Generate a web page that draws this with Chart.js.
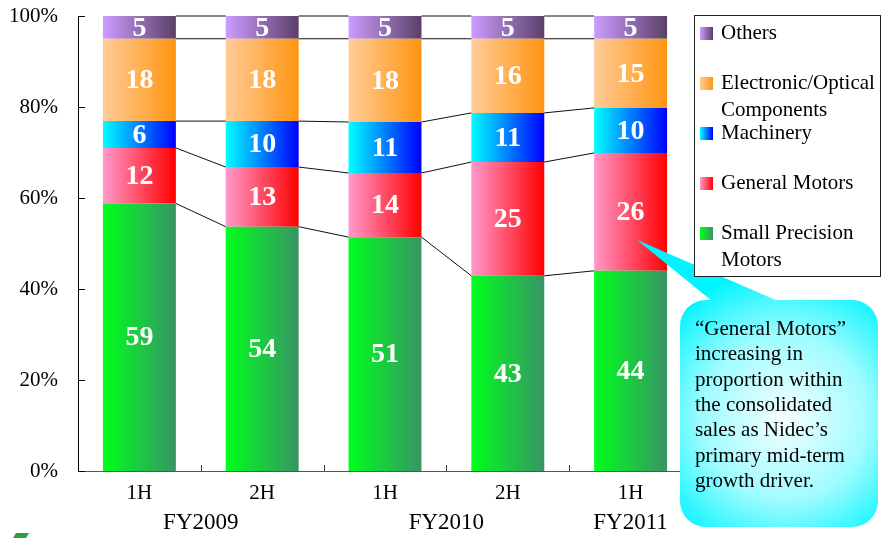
<!DOCTYPE html>
<html>
<head>
<meta charset="utf-8">
<title>Sales by segment</title>
<script src="https://cdn.jsdelivr.net/npm/chart.js@4.4.0/dist/chart.umd.min.js"></script>
<style>
    html, body { margin: 0; padding: 0; background: #fff; }
    #wrap { width: 882px; height: 538px; }
</style>
</head>
<body>
<div id="wrap"><canvas id="segment-chart" width="882" height="538"></canvas></div>
<script>
// Share of consolidated sales (%)
const halves = ['1H', '2H', '1H', '2H', '1H'];
const fiscalYears = ['FY2009', 'FY2010', 'FY2011'];
const fiscalSpans = [[0, 1], [2, 3], [4, 4]];

const smallPrecision = [58.8, 53.7, 51.4, 42.9, 44.0];
const generalMotors = [12.2, 13.1, 14.1, 25.0, 25.9];
const machinery = [5.9, 10.1, 11.2, 10.8, 9.9];
const electronicOptical = [18.1, 18.1, 18.3, 16.3, 15.2];
const others = [5.0, 5.0, 5.0, 5.0, 5.0];

const yTicks = [0, 20, 40, 60, 80, 100];

const legendLines = [
    ['Others'],
    ['Electronic/Optical', 'Components'],
    ['Machinery'],
    ['General Motors'],
    ['Small Precision', 'Motors']
];

const calloutLines = [
    '\u201CGeneral Motors\u201D',
    'increasing in',
    'proportion within',
    'the consolidated',
    'sales as Nidec\u2019s',
    'primary mid-term',
    'growth driver.'
];

const SERIF = "'Liberation Serif', 'Times New Roman', serif";
const CAT_PCT = 0.594;

/**
 * Horizontal gradient across one bar
 */
function barGradient(left, right) {
    return function (context) {
        const chart = context.chart;
        if (!chart.chartArea || context.dataIndex === undefined) return right;
        const xScale = chart.scales.x;
        const cx = xScale.getPixelForValue(context.dataIndex);
        const half = xScale.width / halves.length * CAT_PCT / 2;
        const g = chart.ctx.createLinearGradient(cx - half, 0, cx + half, 0);
        g.addColorStop(0, left);
        g.addColorStop(1, right);
        return g;
    };
}

const seriesColors = [
    ['#00ff1c', '#389466'],
    ['#ff99cc', '#ff0000'],
    ['#00ffff', '#0000ff'],
    ['#ffcc99', '#ff9510'],
    ['#cc9cff', '#5a4068']
];

// Lines joining the segment tops of neighbouring bars
const connectorPlugin = {
    id: 'connectors',
    afterDatasetsDraw(chart) {
        const ctx = chart.ctx;
        ctx.save();
        ctx.strokeStyle = '#111';
        ctx.lineWidth = 1;
        chart.data.datasets.forEach((ds, di) => {
            const meta = chart.getDatasetMeta(di);
            for (let i = 0; i < meta.data.length - 1; i++) {
                const a = meta.data[i];
                const b = meta.data[i + 1];
                ctx.beginPath();
                ctx.moveTo(a.x + a.width / 2, a.y);
                ctx.lineTo(b.x - b.width / 2, b.y);
                ctx.stroke();
            }
        });
        ctx.restore();
    }
};

// White numbers in the middle of each segment
const valueLabelPlugin = {
    id: 'valueLabels',
    afterDatasetsDraw(chart) {
        const ctx = chart.ctx;
        ctx.save();
        ctx.fillStyle = '#fff';
        ctx.font = `bold 28px ${SERIF}`;
        ctx.textAlign = 'center';
        ctx.textBaseline = 'middle';
        chart.data.datasets.forEach((ds, di) => {
            const meta = chart.getDatasetMeta(di);
            meta.data.forEach((el, i) => {
                ctx.fillText(String(Math.round(ds.data[i])), el.x, (el.y + el.base) / 2 + 1);
            });
        });
        ctx.restore();
    }
};

// Inner ticks, fiscal-year row, callout, legend
const decorPlugin = {
    id: 'decor',
    afterDraw(chart) {
        const ctx = chart.ctx;
        const area = chart.chartArea;
        const xScale = chart.scales.x;
        const yScale = chart.scales.y;
        ctx.save();

        // y ticks pointing into the plot
        ctx.strokeStyle = '#000';
        ctx.lineWidth = 1;
        yTicks.forEach(v => {
            const y = Math.round(yScale.getPixelForValue(v)) + 0.5;
            ctx.beginPath();
            ctx.moveTo(area.left, y);
            ctx.lineTo(area.left + 7, y);
            ctx.stroke();
        });

        // x ticks between categories
        ctx.strokeStyle = '#333';
        for (let i = 0; i < halves.length - 1; i++) {
            const x = Math.round((xScale.getPixelForValue(i) + xScale.getPixelForValue(i + 1)) / 2) + 0.5;
            ctx.beginPath();
            ctx.moveTo(x, area.bottom);
            ctx.lineTo(x, area.bottom - 6);
            ctx.stroke();
        }

        // fiscal year row
        ctx.fillStyle = '#000';
        ctx.font = `23px ${SERIF}`;
        ctx.textAlign = 'center';
        ctx.textBaseline = 'middle';
        fiscalYears.forEach((fy, k) => {
            const [a, b] = fiscalSpans[k];
            const x = (xScale.getPixelForValue(a) + xScale.getPixelForValue(b)) / 2;
            ctx.fillText(fy, x, 523);
        });

        // callout bubble with pointer
        const bx = 680, by = 300, bw = 198, bh = 227, r = 26;
        const grad = ctx.createRadialGradient(785, 418, 0, 785, 418, 150);
        grad.addColorStop(0, '#f6ffff');
        grad.addColorStop(0.55, '#9ffcff');
        grad.addColorStop(1, '#00f4ff');
        ctx.fillStyle = grad;
        ctx.beginPath();
        ctx.roundRect(bx, by, bw, bh, r);
        ctx.moveTo(712, by + 1);
        ctx.lineTo(637, 240);
        ctx.lineTo(778, by + 1);
        ctx.closePath();
        ctx.fill('nonzero');

        ctx.fillStyle = '#000';
        ctx.font = `21px ${SERIF}`;
        ctx.textAlign = 'left';
        ctx.textBaseline = 'alphabetic';
        calloutLines.forEach((line, i) => {
            ctx.fillText(line, 695, 335 + i * 25.3);
        });

        // legend box
        const lx = 694, ly = 15, lw = 186, lh = 261;
        ctx.fillStyle = '#fff';
        ctx.fillRect(lx, ly, lw, lh);
        ctx.strokeStyle = '#222';
        ctx.lineWidth = 1;
        ctx.strokeRect(lx + 0.5, ly + 0.5, lw, lh);

        ctx.font = `21px ${SERIF}`;
        ctx.textBaseline = 'middle';
        legendLines.forEach((lines, k) => {
            const colors = seriesColors[seriesColors.length - 1 - k];
            const y = 33 + k * 50;
            const g = ctx.createLinearGradient(700, 0, 713, 0);
            g.addColorStop(0, colors[0]);
            g.addColorStop(1, colors[1]);
            ctx.fillStyle = g;
            ctx.fillRect(700, y - 6, 13, 13);
            ctx.fillStyle = '#000';
            lines.forEach((t, j) => ctx.fillText(t, 721, y + j * 27));
        });

        // corner logo fragment
        ctx.fillStyle = '#2f9e3c';
        ctx.beginPath();
        ctx.moveTo(16, 533);
        ctx.lineTo(29, 533);
        ctx.lineTo(26, 538);
        ctx.lineTo(13, 538);
        ctx.closePath();
        ctx.fill();

        ctx.restore();
    }
};

const seriesData = [smallPrecision, generalMotors, machinery, electronicOptical, others];
const seriesNames = ['Small Precision Motors', 'General Motors', 'Machinery', 'Electronic/Optical Components', 'Others'];

new Chart(document.getElementById('segment-chart'), {
    type: 'bar',
    data: {
        labels: halves,
        datasets: seriesData.map((d, i) => ({
            label: seriesNames[i],
            data: d,
            backgroundColor: barGradient(seriesColors[i][0], seriesColors[i][1]),
            borderWidth: 0,
            barPercentage: 1,
            categoryPercentage: CAT_PCT
        }))
    },
    options: {
        responsive: false,
        animation: false,
        devicePixelRatio: 1,
        layout: { padding: { top: 16, right: 190, left: 0, bottom: 0 } },
        plugins: {
            legend: { display: false },
            tooltip: { enabled: false }
        },
        scales: {
            x: {
                stacked: true,
                grid: { display: false, drawTicks: false },
                border: { display: true, color: '#555', width: 1 },
                ticks: { color: '#000', font: { family: SERIF, size: 21 }, padding: 10 },
                afterFit(scale) { scale.height = 67; }
            },
            y: {
                stacked: true,
                min: 0,
                max: 100,
                grid: { display: false, drawTicks: false },
                border: { display: true, color: '#000', width: 1 },
                ticks: {
                    stepSize: 20,
                    color: '#000',
                    font: { family: SERIF, size: 21 },
                    padding: 20,
                    callback: v => v + '%'
                },
                afterFit(scale) {
                    scale.width = 78;
                    scale.paddingTop = 0;
                    scale.paddingBottom = 0;
                }
            }
        }
    },
    plugins: [connectorPlugin, valueLabelPlugin, decorPlugin]
});
</script>
</body>
</html>
